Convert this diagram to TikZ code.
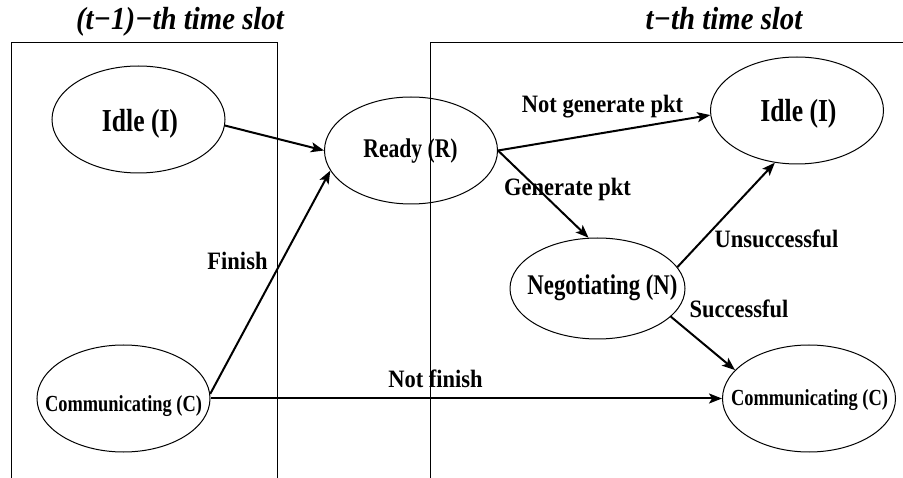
\documentclass[tikz,border=0pt]{standalone}
\usepackage{fontspec}
\setmainfont{Liberation Serif}
% narrowed faces for the state names and the transition labels
\newfontfamily\nodefont[FakeStretch=0.8]{Liberation Serif}
\newfontfamily\labelfont[FakeStretch=0.9]{Liberation Serif}
\usetikzlibrary{shapes.geometric,arrows.meta}
\begin{document}
\begin{tikzpicture}[x=1pt,y=-1pt,
  slot/.style={line width=1pt},
  state/.style={ellipse,draw,line width=1pt,inner sep=0pt,
                minimum width=173pt,minimum height=107pt},
  statetext/.style={anchor=base,inner sep=0pt,
                font=\nodefont\bfseries\fontsize{#1}{#1}\selectfont},
  trans/.style={line width=2pt,-{Stealth[length=13pt,width=10pt,inset=3pt]}},
  translabel/.style={anchor=base,inner sep=0pt,
                font=\labelfont\bfseries\fontsize{25}{30}\selectfont},
  slottitle/.style={anchor=base,inner sep=0pt,
                font=\labelfont\bfseries\itshape\fontsize{32}{38}\selectfont}]
\useasboundingbox (0,0) rectangle (903,478);

% time slot frames (open at the bottom)
\draw[slot] (11,478) -- (11,43) -- (277,43) -- (277,478);
\draw[slot] (430,478) -- (430,43) -- (903,43);

\node[slottitle] (slotPrev) at (180,30) {(t−1)−th time slot};
\node[slottitle] (slotCur) at (724,30) {t−th time slot};

% states
\node[state] (idleL) at (138.5,119.5) {};
\node[state] (ready) at (411,150.5) {};
\node[state] (idleR) at (797,110.5) {};
\node[state,minimum width=175pt,minimum height=101pt] (neg) at (597.5,288.5) {};
\node[state] (commL) at (123.5,398.5) {};
\node[state] (commR) at (809,398.5) {};

\node[statetext=32] (idleLt) at (140,132) {Idle (I)};
\node[statetext=27] (readyt) at (410.5,158) {Ready (R)};
\node[statetext=32] (idleRt) at (798.5,122) {Idle (I)};
\node[statetext=28.5] (negt) at (602.5,295) {Negotiating (N)};
\node[statetext=23] (commLt) at (123.5,412) {Communicating (C)};
\node[statetext=23] (commRt) at (809.5,406) {Communicating (C)};

% transitions
\draw[trans] (idleL.-4) -- (ready.west);
\draw[trans] (commL.3) -- (ready.-166);
\draw[trans] (commL.east) -- (commR.west);
\draw[trans] (ready.east) -- (idleR.183);
\draw[trans] (ready.east) -- (neg.100);
\draw[trans] (neg.15) -- (idleR.-113);
\draw[trans] (neg.-21) -- (commR.159);

% transition labels
\node[translabel] (lblNotGen) at (602.5,113) {Not generate pkt};
\node[translabel] (lblGen) at (567.5,196) {Generate pkt};
\node[translabel] (lblFinish) at (237.5,270) {Finish};
\node[translabel] (lblNotFinish) at (435.5,388) {Not finish};
\node[translabel] (lblUnsucc) at (776.5,248) {Unsuccessful};
\node[translabel] (lblSucc) at (739,318) {Successful};
\end{tikzpicture}
\end{document}
